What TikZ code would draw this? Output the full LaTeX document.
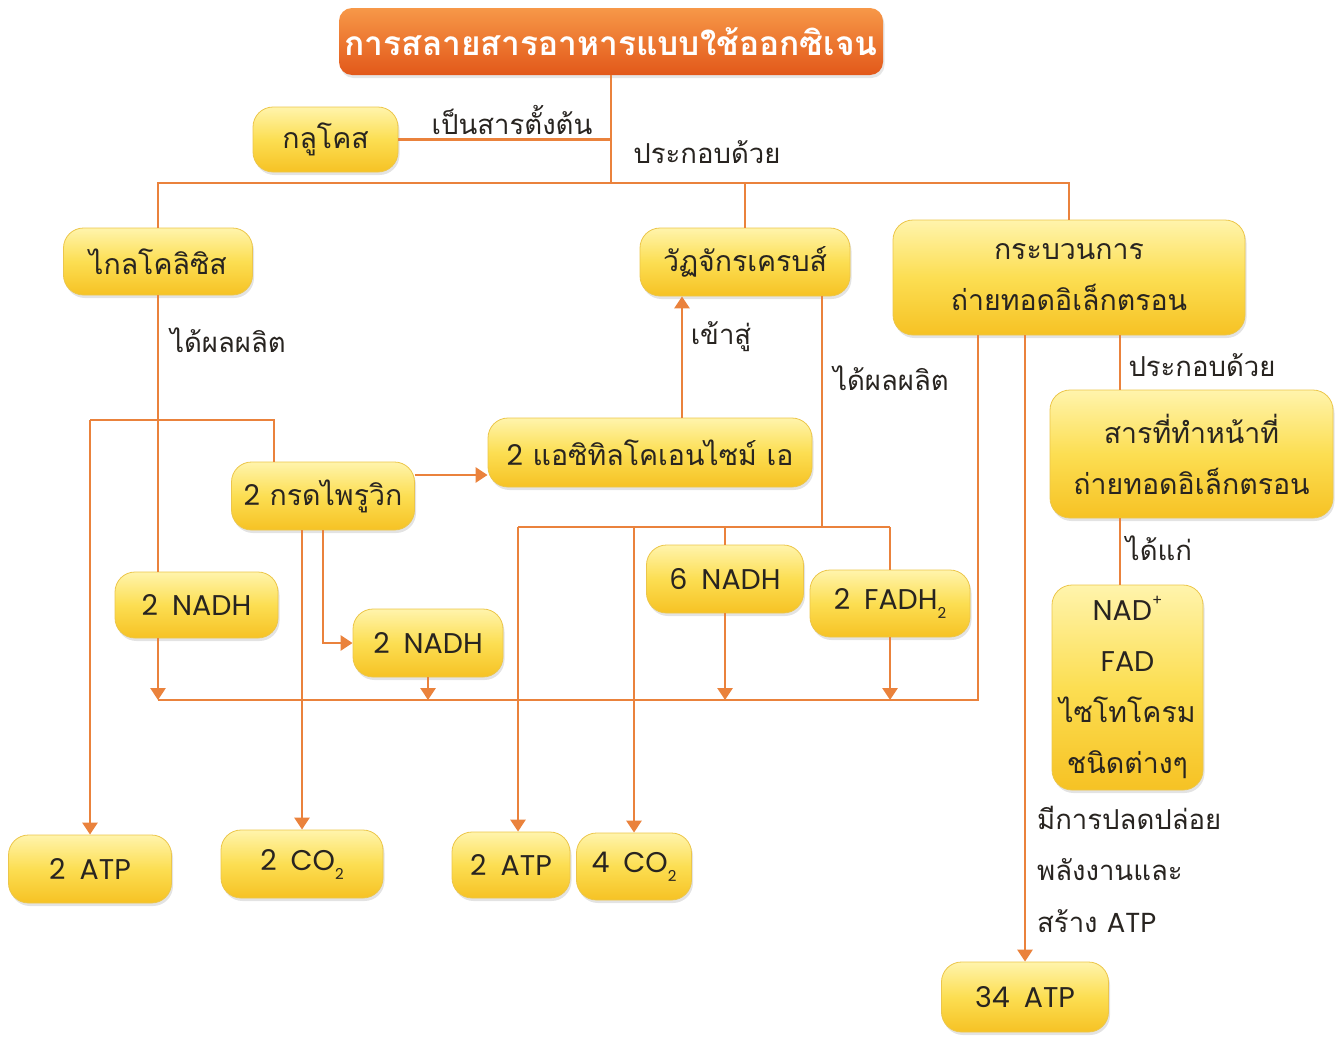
\documentclass[tikz,border=0pt]{standalone}
\usepackage{fontspec}
\setmainfont[Script=Thai]{Loma}
\newfontfamily\lat{Poppins}
\usetikzlibrary{arrows.meta,shadows}

\definecolor{wire}{RGB}{234,130,60}
\definecolor{ink}{RGB}{40,36,32}
\definecolor{boxtop}{RGB}{255,244,172}
\definecolor{boxmid}{RGB}{252,222,82}
\definecolor{boxbot}{RGB}{246,194,36}
\definecolor{boxedge}{RGB}{236,198,74}
\definecolor{headtop}{RGB}{247,152,72}
\definecolor{headbot}{RGB}{226,88,26}

% small raised / lowered figures
\newcommand\lowtwo{\raisebox{-9pt}{\fontsize{15}{15}\selectfont 2}}
\newcommand\plussup{\raisebox{15pt}{\fontsize{15}{15}\selectfont +}}

\tikzset{
  ybox/.style={rounded corners=20pt, top color=boxtop, bottom color=boxbot,
    middle color=boxmid, draw=boxedge, line width=0.8pt, text=ink,
    font=\fontsize{28.5}{51}\selectfont, align=center, inner sep=0pt,
    drop shadow={opacity=0.22, shadow xshift=1.5pt, shadow yshift=-3pt}},
  headbox/.style={rounded corners=13pt, top color=headtop, bottom color=headbot,
    draw=none, text=white, font=\bfseries\fontsize{33.5}{36}\selectfont,
    inner sep=0pt,
    drop shadow={opacity=0.2, shadow xshift=1.5pt, shadow yshift=-3pt}},
  lbl/.style={text=ink, font=\fontsize{27.5}{51}\selectfont, inner sep=0pt},
  wireline/.style={draw=wire, line width=2.8pt},
  arr/.style={wireline, -{Triangle[width=15pt,length=12pt]}},
}

\begin{document}
\begin{tikzpicture}[x=1pt, y=-1pt]
\useasboundingbox (0,0) rectangle (1340,1036);

% ---------- boxes ----------
\node[headbox, minimum width=544pt, minimum height=67pt] (title) at (611,41.5) {การสลายสารอาหารแบบใช้ออกซิเจน};
\node[ybox, minimum width=145pt, minimum height=65pt] (glucose) at (325.5,139.5) {กลูโคส};
\node[ybox, minimum width=189pt, minimum height=67pt] (glyco) at (158,261.5) {ไกลโคลิซิส};
\node[ybox, minimum width=210pt, minimum height=68pt] (krebs) at (745,262) {วัฏจักรเครบส์};
\node[ybox, minimum width=352pt, minimum height=115pt] (etc) at (1069,277.5) {กระบวนการ\\ถ่ายทอดอิเล็กตรอน};
\node[ybox, minimum width=324pt, minimum height=69pt] (acetyl) at (650,452.5) {{\lat 2} แอซิทิลโคเอนไซม์ เอ};
\node[ybox, minimum width=183pt, minimum height=68pt] (pyruvic) at (323,496) {{\lat 2} กรดไพรูวิก};
\node[ybox, minimum width=163pt, minimum height=66pt] (nadh1) at (196.5,605) {\lat 2\hspace{14pt}NADH};
\node[ybox, minimum width=150pt, minimum height=68pt] (nadh2) at (428,643) {\lat 2\hspace{14pt}NADH};
\node[ybox, minimum width=157pt, minimum height=68pt] (nadh6) at (725,579) {\lat 6\hspace{14pt}NADH};
\node[ybox, minimum width=160pt, minimum height=67pt] (fadh) at (890,603.5) {\lat 2\hspace{14pt}FADH\lowtwo};
\node[ybox, minimum width=283pt, minimum height=128pt] (carrier) at (1191.5,454) {สารที่ทำหน้าที่\\ถ่ายทอดอิเล็กตรอน};
\node[ybox, minimum width=151pt, minimum height=205pt] (nadlist) at (1127.5,687.5) {{\lat NAD\plussup}\\{\lat FAD}\\ไซโทโครม\\ชนิดต่างๆ};
\node[ybox, minimum width=163pt, minimum height=68pt] (atp1) at (90,869) {\lat 2\hspace{14pt}ATP};
\node[ybox, minimum width=162pt, minimum height=68pt] (co2a) at (302,864) {\lat 2\hspace{14pt}CO\lowtwo};
\node[ybox, minimum width=118pt, minimum height=66pt] (atp2) at (511,865) {\lat 2\hspace{14pt}ATP};
\node[ybox, minimum width=115pt, minimum height=67pt] (co2b) at (634,866.5) {\lat 4\hspace{14pt}CO\lowtwo};
\node[ybox, minimum width=167pt, minimum height=70pt] (atp34) at (1025,997) {\lat 34\hspace{14pt}ATP};

% ---------- junction points ----------
\coordinate (hub) at (611,183);
\coordinate (splitL) at (90,420);
\coordinate (splitR) at (274,420);
\coordinate (pa) at (0,475);
\coordinate (up) at (682,0);
\coordinate (busL) at (158,700);
\coordinate (busR) at (978,700);
\coordinate (kb) at (822,527);
\coordinate (kL) at (518,527);
\coordinate (ec) at (1120,0);

% ---------- connectors ----------
% overall process and its three stages
\draw[wireline] (title.south) -- (title.south |- hub);
\draw[wireline] (glucose.east) -- (glucose.east -| title.south);
\draw[wireline] (glyco.north) |- (hub) -| (etc.north);
\draw[wireline] (krebs.north) -- (krebs.north |- hub);

% glycolysis products
\draw[wireline] (glyco.south) -- (nadh1.north -| glyco.south);
\draw[wireline] (pyruvic.north -| splitR) -- (splitR) -- (splitL);
\draw[arr] (splitL) -- (atp1.north);

% pyruvic acid
\draw[arr] (pyruvic.east |- pa) -- (acetyl.west |- pa);
\draw[arr] (acetyl.north -| up) -- (krebs.south -| up);
\draw[arr] (pyruvic.south -| co2a.north) -- (co2a.north);
\draw[arr] (pyruvic.south) |- (nadh2.west);

% Krebs cycle products
\draw[wireline] (krebs.south -| kb) -- (kb);
\draw[wireline] (kL) -- (fadh.north |- kb);
\draw[arr] (kL) -- (atp2.north -| kL);
\draw[arr] (co2b.north |- kb) -- (co2b.north);
\draw[wireline] (nadh6.north |- kb) -- (nadh6.north);
\draw[wireline] (fadh.north |- kb) -- (fadh.north);

% electron carriers collected into the transport chain
\draw[wireline] (etc.south -| busR) -- (busR) -- (busL);
\draw[arr] (nadh1.south -| busL) -- (busL);
\draw[arr] (nadh2.south) -- (nadh2.south |- busL);
\draw[arr] (nadh6.south) -- (nadh6.south |- busL);
\draw[arr] (fadh.south) -- (fadh.south |- busL);

% electron transport chain
\draw[arr] (etc.south -| atp34.north) -- (atp34.north);
\draw[wireline] (etc.south -| ec) -- (carrier.north -| ec);
\draw[wireline] (carrier.south -| ec) -- (nadlist.north -| ec);

% ---------- labels ----------
\node[lbl] (l1) at (512,120) {เป็นสารตั้งต้น};
\node[lbl] (l2) at (707,152) {ประกอบด้วย};
\node[lbl] (l3) at (228,340) {ได้ผลผลิต};
\node[lbl] (l4) at (721,337) {เข้าสู่};
\node[lbl] (l5) at (891,378) {ได้ผลผลิต};
\node[lbl] (l6) at (1202,365) {ประกอบด้วย};
\node[lbl] (l7) at (1159,548) {ได้แก่};
\node[lbl, anchor=west] (l8) at (1037,818) {มีการปลดปล่อย};
\node[lbl, anchor=west] (l9) at (1037,870) {พลังงานและ};
\node[lbl, anchor=west] (l10) at (1037,921) {สร้าง {\lat ATP}};
\end{tikzpicture}
\end{document}
